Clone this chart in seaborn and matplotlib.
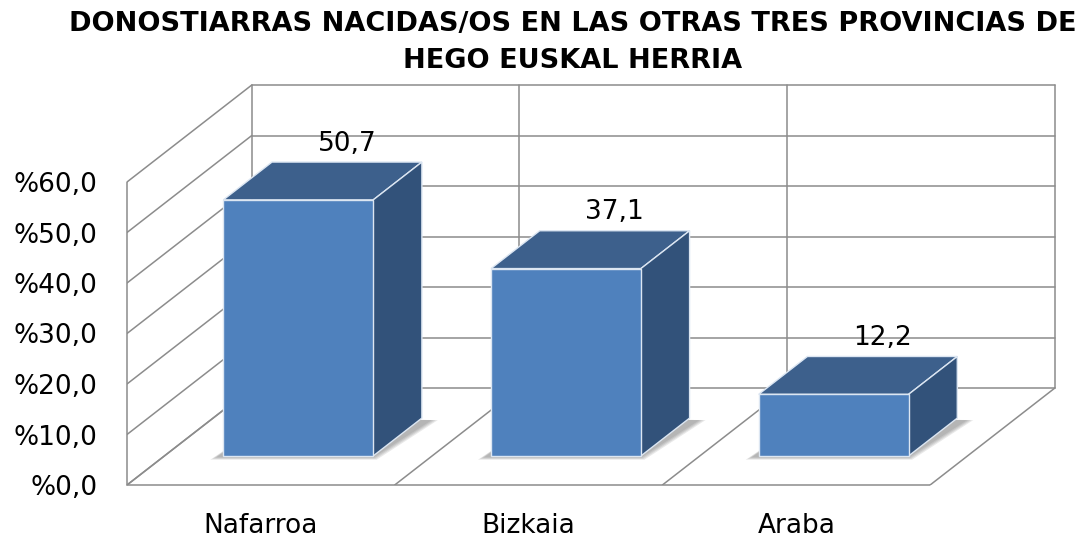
import numpy as np
import pandas as pd
import matplotlib
matplotlib.use("Agg")
import matplotlib.pyplot as plt
import seaborn as sns
from matplotlib.patches import Polygon

# data
provincias = ["Nafarroa", "Bizkaia", "Araba"]
porcentajes = [50.7, 37.1, 12.2]
etiquetas = ["50,7", "37,1", "12,2"]
y_ticks = [0, 10, 20, 30, 40, 50, 60]
y_labels = ["%0,0", "%10,0", "%20,0", "%30,0", "%40,0", "%50,0", "%60,0"]
titulo = "DONOSTIARRAS NACIDAS/OS EN LAS OTRAS TRES PROVINCIAS DE\nHEGO EUSKAL HERRIA"

df = pd.DataFrame({"provincia": provincias, "pct": porcentajes})

# 3d look: depth offset of the back wall (x in category units, y in value units)
DX, DY = 0.466, 19.2
F0, F1 = 0.30, 0.69          # bar front / back as a share of the depth
PX, PY = 1 / 267.7, 1 / 5.05  # one pixel in data units
GRID = "#8c8c8c"
FRONT, TOP, SIDE = "#4f81bd", "#3d608c", "#32527a"

sns.set_style("white")
plt.rcParams["font.family"] = ["DejaVu Sans"]
plt.rcParams["text.color"] = "black"
plt.rcParams["xtick.labelcolor"] = "black"
plt.rcParams["ytick.labelcolor"] = "black"

fig = plt.figure(figsize=(10.82, 5.40), dpi=100)
ax = fig.add_axes([127 / 1082, 55 / 540, 943 / 1082, 405 / 540])

# walls and floor
x0, x1 = -0.5, len(provincias) - 0.5
for v in y_ticks:
    ax.plot([x0, x0 + DX], [v, v + DY], color=GRID, lw=1.1, zorder=1)
    ax.plot([x0 + DX, x1 + DX], [v + DY, v + DY], color=GRID, lw=1.1, zorder=1)
for b in np.arange(x0, x1 + 1):
    ax.plot([b, b + DX], [0, DY], color=GRID, lw=1.1, zorder=1)
    ax.plot([b + DX, b + DX], [DY, y_ticks[-1] + DY], color=GRID, lw=1.1, zorder=1)
ax.plot([x0, x1], [0, 0], color=GRID, lw=1.1, zorder=1, clip_on=False)
ax.plot([x0, x0], [0, y_ticks[-1]], color=GRID, lw=1.1, zorder=1, clip_on=False)

# front faces
sns.barplot(data=df, x="provincia", y="pct", color=FRONT, saturation=1,
            width=0.56, edgecolor="#dce6f2", linewidth=1.0, ax=ax, zorder=5)

for i, p in enumerate(ax.patches):
    w, h = p.get_width(), p.get_height()
    xl = p.get_x() + F0 * DX
    yb = F0 * DY
    p.set_x(xl)
    p.set_y(yb)
    xr = xl + w
    yt = yb + h
    ddx, ddy = (F1 - F0) * DX, (F1 - F0) * DY
    # soft shadow on the floor
    for e in [7, 5, 3, 1]:
        shadow = Polygon([(xl - (6 + e) * PX, yb - (1 + e * 0.4) * PY),
                          (xr + e * 0.5 * PX, yb - (1 + e * 0.4) * PY),
                          (xr + ddx + (9 + e) * PX, yb + ddy - 2 * PY),
                          (xl + ddx, yb + ddy)],
                         closed=True, facecolor="#555555", alpha=0.13, lw=0, zorder=2)
        ax.add_patch(shadow)
    top = Polygon([(xl, yt), (xr, yt), (xr + ddx, yt + ddy), (xl + ddx, yt + ddy)],
                  closed=True, facecolor=TOP, edgecolor="#dce6f2", lw=1.0, zorder=4)
    side = Polygon([(xr, yb), (xr + ddx, yb + ddy), (xr + ddx, yt + ddy), (xr, yt)],
                   closed=True, facecolor=SIDE, edgecolor="#dce6f2", lw=1.0, zorder=4)
    ax.add_patch(top)
    ax.add_patch(side)
    ax.annotate(etiquetas[i], xy=(xl + w / 2 + ddx, yt + ddy), xytext=(0, 4),
                textcoords="offset points", ha="center", va="bottom", fontsize=19)

ax.set_xlim(-0.5, -0.5 + 943 / 267.7)
ax.set_ylim(0, 405 / 5.05)
ax.set_xlabel("")
ax.set_ylabel("")
for s in ax.spines.values():
    s.set_visible(False)
ax.grid(False)

ax.set_yticks(y_ticks)
ax.set_yticklabels(y_labels, fontsize=19)
ax.tick_params(axis="y", length=7, width=1.1, color=GRID, pad=14)
ax.set_xticks(range(len(provincias)))
ax.set_xticklabels(provincias, fontsize=19)
ax.set_xticks(np.arange(x0, x1 + 1), minor=True)
ax.tick_params(axis="x", which="major", length=0, pad=20)
ax.tick_params(axis="x", which="minor", length=7, width=1.1, color=GRID)

fig.text(0.529, 0.979, titulo, ha="center", va="top", fontsize=19.5,
         fontweight="bold", linespacing=1.55)

fig.savefig("out.png", dpi=100)
